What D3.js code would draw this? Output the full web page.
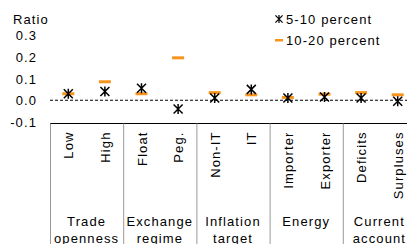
<!DOCTYPE html>
<head>
	<meta charset="utf-8">
	<script src="https://d3js.org/d3.v7.min.js"></script>
	<style>
		body { margin: 0; background: #fff; }
		text { font-family: "Liberation Sans", Arial, sans-serif; fill: #000; font-size: 13px; letter-spacing: 1.1px; }
	</style>
</head>
<body>
	<script>
		var categories = ["Low", "High", "Float", "Peg.", "Non-IT", "IT", "Importer", "Exporter", "Deficits", "Surpluses"];
		var groups = [["Trade", "openness"], ["Exchange", "regime"], ["Inflation", "target"], ["Energy", ""], ["Current", "account"]];
		var low = [0.03, 0.04, 0.055, -0.04, 0.01, 0.05, 0.01, 0.015, 0.01, -0.005];   // 5-10 percent
		var high = [0.03, 0.085, 0.03, 0.195, 0.035, 0.025, 0.013, 0.028, 0.035, 0.025]; // 10-20 percent
		var yTicks = [-0.1, 0.0, 0.1, 0.2, 0.3];

		var width = 407, height = 244;
		var left = 50, right = 416;

		var svg = d3.select("body").append("svg")
			.attr("width", width)
			.attr("height", height);

		// scales
		var x = d3.scaleBand().domain(categories).range([left, right]);
		var g = d3.scaleBand().domain(d3.range(groups.length)).range([left, right]);
		var y = d3.scaleLinear().domain([-0.1, 0.3]).range([122, 35]);

		// y labels
		var yAxis = d3.axisLeft(y)
			.tickValues(yTicks)
			.tickSize(0)
			.tickPadding(0)
			.tickFormat(d => d3.format(".1f")(d).replace("−", "-"));
		svg.append("g")
			.attr("transform", "translate(37,0)")
			.call(yAxis)
			.call(s => s.select(".domain").remove())
			.selectAll("text")
			.attr("dy", "0.35em")
			.style("font-size", "13px")
			.style("font-family", null);

		svg.append("text")
			.attr("x", 13).attr("y", 24)
			.text("Ratio");

		// zero line
		svg.append("line")
			.attr("x1", left).attr("x2", right)
			.attr("y1", y(0)).attr("y2", y(0))
			.attr("stroke", "#000")
			.attr("stroke-dasharray", "3,2");

		// bottom axis line
		var base = y(-0.1) + 1.5;
		svg.append("line")
			.attr("x1", left).attr("x2", right)
			.attr("y1", base).attr("y2", base)
			.attr("stroke", "#000");

		// group dividers
		svg.selectAll(".div")
			.data(d3.range(groups.length + 1))
			.enter().append("line")
			.attr("x1", d => left + d * g.bandwidth() + 0.5)
			.attr("x2", d => left + d * g.bandwidth() + 0.5)
			.attr("y1", base).attr("y2", height)
			.attr("stroke", "#999");

		// category labels
		svg.selectAll(".cat")
			.data(categories)
			.enter().append("text")
			.attr("transform", d => "translate(" + (x(d) + x.bandwidth() / 2 + 5) + "," + (base + 8) + ") rotate(-90)")
			.attr("text-anchor", "end")
			.text(d => d);

		// group labels
		groups.forEach(function(lines, i) {
			lines.forEach(function(t, j) {
				svg.append("text")
					.attr("x", g(i) + g.bandwidth() / 2)
					.attr("y", 226 + j * 17)
					.attr("text-anchor", "middle")
					.text(t);
			});
		});

		// 10-20 percent dashes
		svg.selectAll(".dash")
			.data(high)
			.enter().append("rect")
			.attr("x", (d, i) => x(categories[i]) + x.bandwidth() / 2 - 6)
			.attr("y", d => y(d) - 1.5)
			.attr("width", 12)
			.attr("height", 3)
			.attr("fill", "#f7941d");

		// 5-10 percent stars
		function star(sel) {
			sel.append("path")
				.attr("d", "M-4.5,-4.5L4.5,4.5M-4.5,4.5L4.5,-4.5M0,-5L0,5")
				.attr("stroke", "#000")
				.attr("stroke-width", 1.5)
				.attr("fill", "none");
		}
		svg.selectAll(".star")
			.data(low)
			.enter().append("g")
			.attr("transform", (d, i) => "translate(" + (x(categories[i]) + x.bandwidth() / 2) + "," + y(d) + ")")
			.call(star);

		// legend
		var leg = svg.append("g").attr("transform", "translate(279,19)");
		leg.append("g").attr("transform", "scale(0.8)").call(star);
		leg.append("text").attr("x", 7).attr("y", 5).text("5-10 percent");
		leg.append("rect").attr("x", -4).attr("y", 20).attr("width", 8).attr("height", 2.5).attr("fill", "#f7941d");
		leg.append("text").attr("x", 7).attr("y", 26).text("10-20 percent");
	</script>
</body>
</html>
